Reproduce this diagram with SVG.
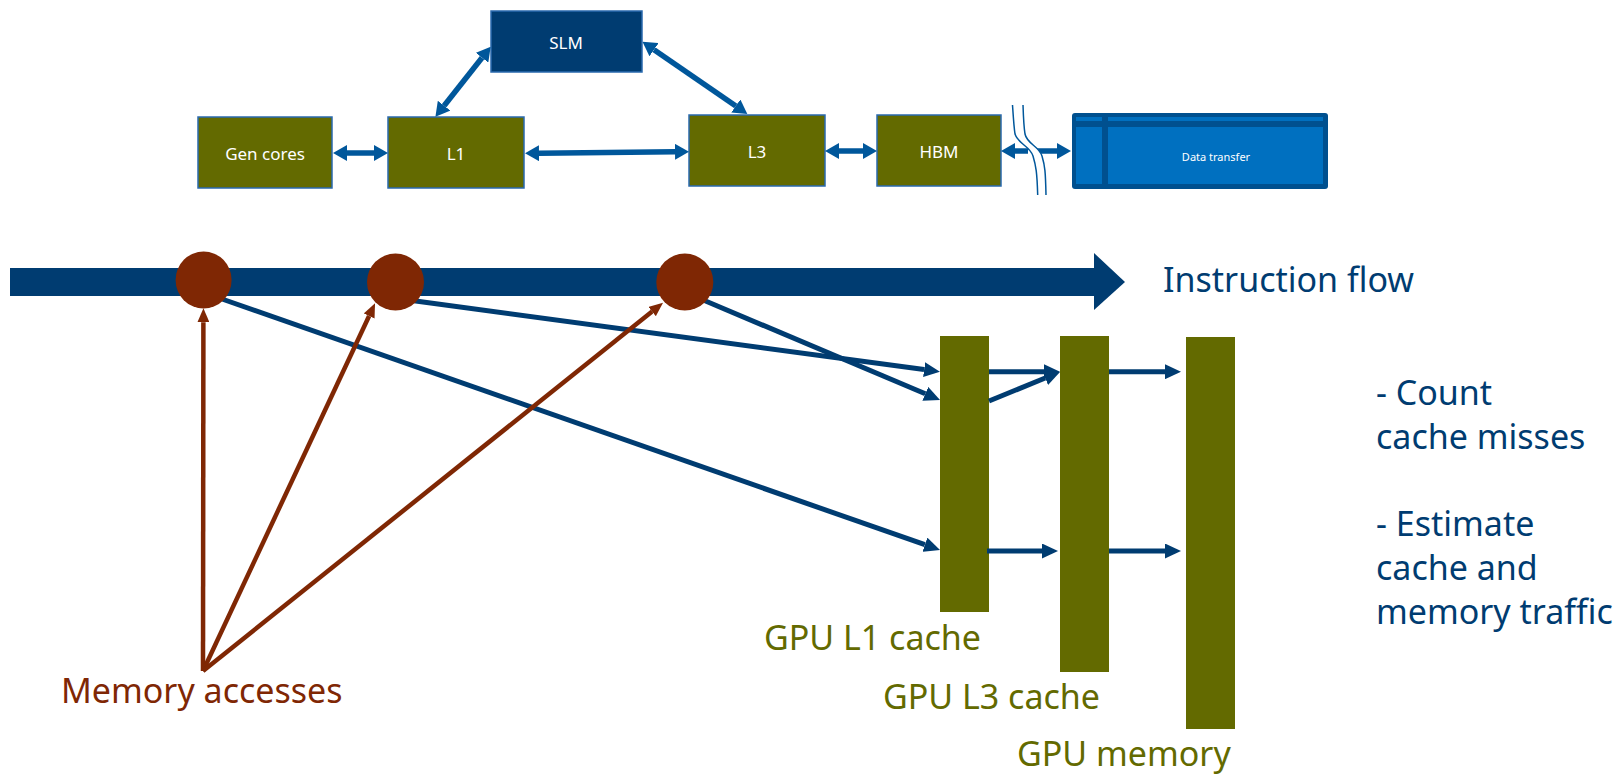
<svg xmlns="http://www.w3.org/2000/svg" width="1618" height="775" viewBox="0 0 1618 775">
<style>
.box{stroke:#2A6AAE;stroke-width:1.5}
.olive{fill:#636A00}
.navy{fill:#003C71}
.lbl{font-family:"Noto Sans","Open Sans",sans-serif;fill:#FFFFFF;text-anchor:middle;dominant-baseline:central}
.big{font-family:"Noto Sans","Open Sans",sans-serif;font-size:34px}
.ta{stroke:#00579B;stroke-width:5.5;fill:none}
.ba{stroke:#003C71;stroke-width:5;fill:none}
.ra{stroke:#7F2704;stroke-width:4.5;fill:none}
</style>
<defs>
<marker id="ah" viewBox="0 0 14 16" refX="0" refY="8" markerWidth="14" markerHeight="16" markerUnits="userSpaceOnUse" orient="auto-start-reverse"><path d="M0,0 L14,8 L0,16 z" fill="#00579B"/></marker>
<marker id="bh" viewBox="0 0 16 15" refX="0" refY="7.5" markerWidth="16" markerHeight="15" markerUnits="userSpaceOnUse" orient="auto-start-reverse"><path d="M0,0 L16,7.5 L0,15 z" fill="#003C71"/></marker>
<marker id="rh" viewBox="0 0 14 12" refX="0" refY="6" markerWidth="14" markerHeight="12" markerUnits="userSpaceOnUse" orient="auto-start-reverse"><path d="M0,0 L14,6 L0,12 z" fill="#7F2704"/></marker>
</defs>
<rect width="1618" height="775" fill="#FFFFFF"/>

<g id="slm"><rect class="box navy" x="491" y="11" width="151" height="61"/><text class="lbl" x="566" y="42" font-size="17">SLM</text></g>
<g id="gen-cores"><rect class="box olive" x="198" y="117" width="134" height="71"/><text class="lbl" x="265" y="153" font-size="17">Gen cores</text></g>
<g id="l1"><rect class="box olive" x="388" y="117" width="136" height="71"/><text class="lbl" x="456" y="153" font-size="17">L1</text></g>
<g id="l3"><rect class="box olive" x="689" y="115" width="136" height="71"/><text class="lbl" x="757" y="151" font-size="17">L3</text></g>
<g id="hbm"><rect class="box olive" x="877" y="115" width="124" height="71"/><text class="lbl" x="939" y="151" font-size="17">HBM</text></g>
<g id="data-transfer">
<rect x="1072" y="113" width="256" height="76" rx="3" fill="#00508F"/>
<rect x="1076" y="117" width="26" height="4" fill="#0070C0"/>
<rect x="1108" y="117" width="215" height="4" fill="#0070C0"/>
<rect x="1076" y="127" width="26" height="57" fill="#0070C0"/>
<rect x="1108" y="127" width="215" height="57" fill="#0070C0"/>
<text class="lbl" x="1216" y="156" font-size="11">Data transfer</text>
</g>

<g id="top-connectors">
<line class="ta" x1="347" y1="153" x2="374" y2="153" marker-start="url(#ah)" marker-end="url(#ah)"/>
<line class="ta" x1="539" y1="153.2" x2="675" y2="151.8" marker-start="url(#ah)" marker-end="url(#ah)"/>
<line class="ta" x1="444.1" y1="105.7" x2="482" y2="57.7" marker-start="url(#ah)" marker-end="url(#ah)"/>
<line class="ta" x1="654" y1="49.7" x2="735.8" y2="106" marker-start="url(#ah)" marker-end="url(#ah)"/>
<line class="ta" x1="839" y1="151" x2="863" y2="151" marker-start="url(#ah)" marker-end="url(#ah)"/>
<line class="ta" x1="1015" y1="151" x2="1028" y2="151" marker-start="url(#ah)"/>
<line class="ta" x1="1036" y1="151" x2="1057" y2="151" marker-end="url(#ah)"/>
<path d="M1012.5,105 C1013.5,120 1014,128 1015,134 C1018,144 1030,146 1033,156 C1036,166 1037,172 1037.7,195 L1046,195 C1045.5,172 1045,166 1042,156 C1039,146 1027,144 1025,134 C1024,128 1023.5,120 1023,105 Z" fill="#FFFFFF"/>
<path d="M1012.5,105 C1013.5,120 1014,128 1015,134 C1018,144 1030,146 1033,156 C1036,166 1037,172 1037.7,195" fill="none" stroke="#00579B" stroke-width="1.5"/>
<path d="M1023,105 C1023.5,120 1024,128 1025,134 C1027,144 1039,146 1042,156 C1045,166 1045.5,172 1046,195" fill="none" stroke="#00579B" stroke-width="1.5"/>
</g>

<g id="instruction-flow">
<rect class="navy" x="10" y="268" width="1086" height="28"/>
<polygon class="navy" points="1094,253 1125,282 1094,310"/>
<text class="big" x="1163" y="292" fill="#003C71">Instruction flow</text>
</g>

<g id="gpu-l1"><rect class="olive" x="940" y="336" width="49" height="276"/><text class="big" x="764" y="650" fill="#636A00" font-size="36">GPU L1 cache</text></g>
<g id="gpu-l3"><rect class="olive" x="1060" y="336" width="49" height="336"/><text class="big" x="883" y="709" fill="#636A00" font-size="36">GPU L3 cache</text></g>
<g id="gpu-mem"><rect class="olive" x="1186" y="337" width="49" height="392"/><text class="big" x="1017" y="766" fill="#636A00" font-size="36">GPU memory</text></g>

<g id="connectors">
<line class="ba" x1="222" y1="299" x2="924.9" y2="544.7" marker-end="url(#bh)"/>
<line class="ba" x1="412" y1="300.5" x2="924.1" y2="369.6" marker-end="url(#bh)"/>
<line class="ba" x1="702" y1="299.5" x2="925.3" y2="393.8" marker-end="url(#bh)"/>
<line class="ba" x1="989" y1="371.7" x2="1044" y2="371.7" marker-end="url(#bh)"/>
<line class="ba" x1="989" y1="401" x2="1045.2" y2="378" marker-end="url(#bh)"/>
<line class="ba" x1="1109" y1="371.7" x2="1165" y2="371.7" marker-end="url(#bh)"/>
<line class="ba" x1="987" y1="551" x2="1042" y2="551" marker-end="url(#bh)"/>
<line class="ba" x1="1109" y1="551" x2="1165" y2="551" marker-end="url(#bh)"/>
<line class="ra" x1="203" y1="671" x2="203.4" y2="322.3" marker-end="url(#rh)"/>
<line class="ra" x1="203" y1="671" x2="369.1" y2="316" marker-end="url(#rh)"/>
<line class="ra" x1="203" y1="671" x2="652.1" y2="311.5" marker-end="url(#rh)"/>
</g>

<g id="access-points">
<ellipse cx="203.6" cy="280" rx="28" ry="28.5" fill="#7F2704"/>
<ellipse cx="395.5" cy="282" rx="28.5" ry="28.5" fill="#7F2704"/>
<ellipse cx="684.8" cy="282" rx="28.5" ry="28.5" fill="#7F2704"/>
</g>

<g id="labels">
<text class="big" x="61" y="703" fill="#7F2704">Memory accesses</text>
<text class="big" fill="#003C71"><tspan x="1376" y="405">- Count</tspan><tspan x="1376" y="449">cache misses</tspan><tspan x="1376" y="536">- Estimate</tspan><tspan x="1376" y="580">cache and</tspan><tspan x="1376" y="624">memory traffic</tspan></text>
</g>
</svg>
